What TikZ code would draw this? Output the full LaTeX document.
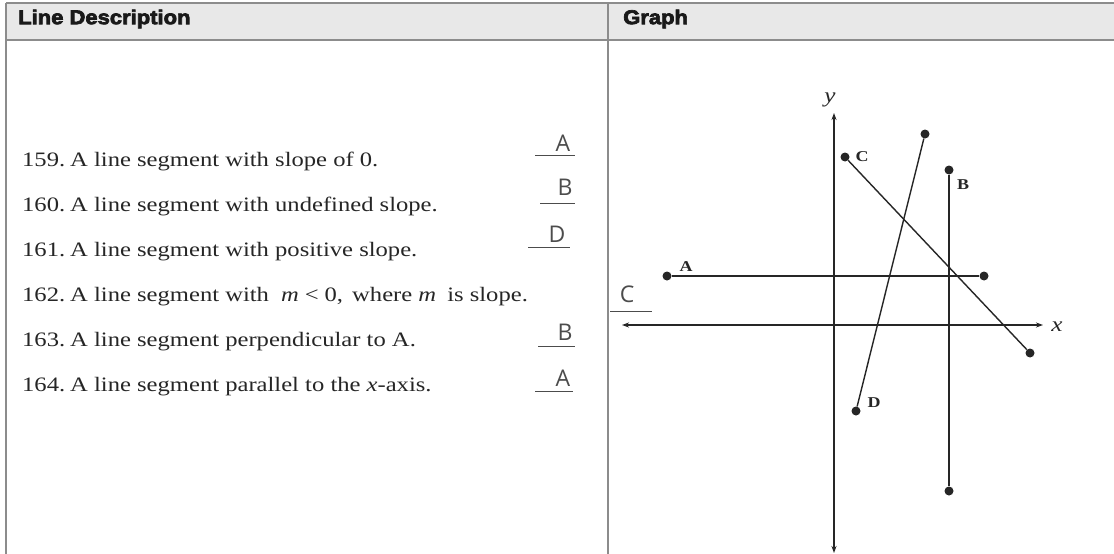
\documentclass[tikz,border=0pt]{standalone}
\usepackage{fontspec}
\setmainfont{Liberation Serif}[FakeStretch=1.2]
\newfontfamily\hdrfont{Liberation Sans}[FakeStretch=1.1,FakeBold=3.5]
\newfontfamily\handfont{Open Sans}
\usetikzlibrary{arrows.meta}
\definecolor{rule}{gray}{0.55}
\definecolor{hdrbg}{gray}{0.91}
\definecolor{ink}{gray}{0.15}
\begin{document}
\begin{tikzpicture}[x=1pt,y=-1pt,
  rowtext/.style={anchor=base west,inner sep=0pt,font=\fontsize{20.5}{23}\selectfont,text=ink},
  hdr/.style={anchor=west,inner sep=0pt,font=\hdrfont\bfseries\fontsize{20}{22}\selectfont,text=black!90},
  ans/.style={inner sep=0pt,font=\handfont\fontsize{23}{25}\selectfont,text=black!70},
  ansline/.style={draw=black!70,line width=0.9pt},
  dot/.style={circle,fill=ink,inner sep=0pt,minimum size=9pt},
  seg/.style={draw=ink,line width=1.4pt},
  axis/.style={draw=ink,line width=1.4pt,{Stealth[length=7pt,width=5pt]}-{Stealth[length=7pt,width=5pt]}},
  ptlabel/.style={inner sep=0pt,font=\bfseries\fontsize{15}{16}\selectfont,text=ink},
  axlabel/.style={inner sep=0pt,font=\itshape\fontsize{21}{23}\selectfont,text=ink},
  tableline/.style={draw=rule,line width=1.3pt}]
\useasboundingbox (0,0) rectangle (1114,554);
\fill[white] (0,0) rectangle (1114,554);
% header
\fill[hdrbg] (6,3) rectangle (1114,40);
\coordinate (tl) at (6,3);
\coordinate (tr) at (1114,3);
\coordinate (bl) at (6,554);
\coordinate (hl) at (6,40);
\coordinate (hr) at (1114,40);
\coordinate (dt) at (608,3);
\coordinate (db) at (608,554);
\draw[tableline] (tl) -- (tr);
\draw[tableline] (tl) -- (bl);
\draw[tableline] (hl) -- (hr);
\draw[tableline] (dt) -- (db);
\node[hdr] (h1) at (18,19) {Line Description};
\node[hdr] (h2) at (623,19) {Graph};
% rows
\node[rowtext] (n159) at (22,166) {159.};
\node[rowtext] (t159) at (70,166) {A line segment with slope of 0.};
\node[rowtext] (n160) at (22,211) {160.};
\node[rowtext] (t160) at (70,211) {A line segment with undefined slope.};
\node[rowtext] (n161) at (22,256) {161.};
\node[rowtext] (t161) at (70,256) {A line segment with positive slope.};
\node[rowtext] (n162) at (22,301) {162.};
\node[rowtext] (t162) at (70,301) {A line segment with\hspace{12pt}{\itshape m}\hspace{6pt}<\hspace{6pt}0,\hspace{3pt} where\hspace{6pt}{\itshape m}\hspace{5pt} is slope.};
\node[rowtext] (n163) at (22,346) {163.};
\node[rowtext] (t163) at (70,346) {A line segment perpendicular to A.};
\node[rowtext] (n164) at (22,391) {164.};
\node[rowtext] (t164) at (70,391) {A line segment parallel to the {\itshape x}-axis.};
% answers
\node[ans] (a159) at (563,143) {A};
\coordinate (u159a) at (535,155); \coordinate (u159b) at (575,155);
\draw[ansline] (u159a) -- (u159b);
\node[ans] (a160) at (565,187) {B};
\coordinate (u160a) at (540,203); \coordinate (u160b) at (575,203);
\draw[ansline] (u160a) -- (u160b);
\node[ans] (a161) at (557,234) {D};
\coordinate (u161a) at (528,247); \coordinate (u161b) at (570,247);
\draw[ansline] (u161a) -- (u161b);
\node[ans] (a162) at (627,294) {C};
\coordinate (u162a) at (610,311); \coordinate (u162b) at (652,311);
\draw[ansline] (u162a) -- (u162b);
\node[ans] (a163) at (565,332) {B};
\coordinate (u163a) at (538,346); \coordinate (u163b) at (575,346);
\draw[ansline] (u163a) -- (u163b);
\node[ans] (a164) at (563,378) {A};
\coordinate (u164a) at (535,391); \coordinate (u164b) at (573,391);
\draw[ansline] (u164a) -- (u164b);
% graph axes
\coordinate (ytop) at (834,113);
\coordinate (ybot) at (834,553);
\coordinate (xleft) at (622,325);
\coordinate (xright) at (1043,325);
\draw[axis] (ybot) -- (ytop);
\draw[axis] (xleft) -- (xright);
\node[axlabel] (ylab) at (830,100) {y};
\node[axlabel] (xlab) at (1057,327) {x};
% segments
\node[dot] (A1) at (667,276) {};
\node[dot] (A2) at (984,276) {};
\draw[seg] (A1) -- (A2);
\node[ptlabel] (Alab) at (686,267) {A};
\node[dot] (C1) at (845,157) {};
\node[dot] (C2) at (1030,353) {};
\draw[seg] (C1) -- (C2);
\node[ptlabel] (Clab) at (862,157) {C};
\node[dot] (D1) at (856,411) {};
\node[dot] (D2) at (925,134) {};
\draw[seg] (D1) -- (D2);
\node[ptlabel] (Dlab) at (874,403) {D};
\node[dot] (B1) at (949,170) {};
\node[dot] (B2) at (949,491) {};
\draw[seg] (B1) -- (B2);
\node[ptlabel] (Blab) at (963,185) {B};
\end{tikzpicture}
\end{document}
